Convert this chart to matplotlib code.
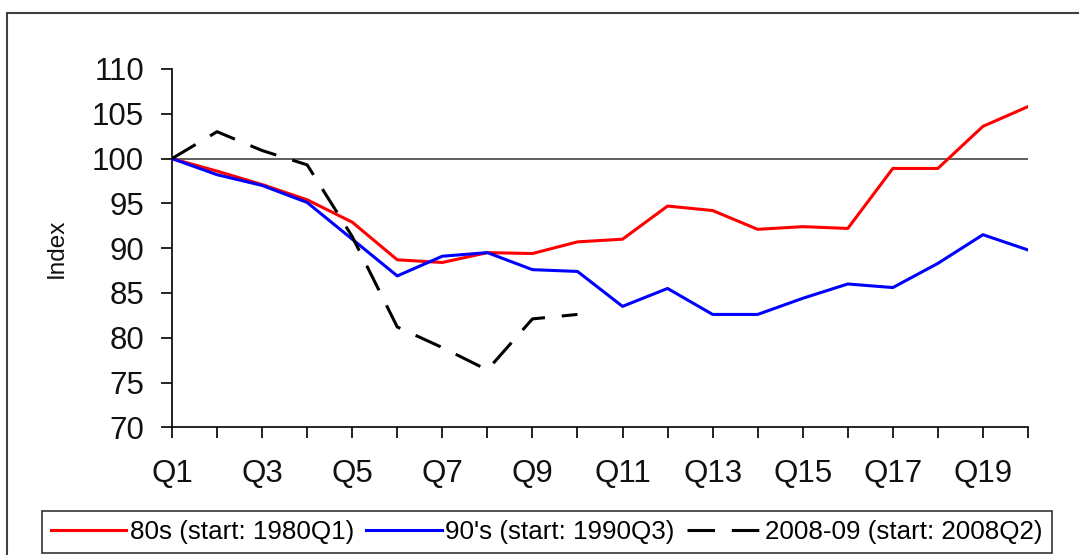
import numpy as np
import matplotlib
matplotlib.use("Agg")
import matplotlib.pyplot as plt
from matplotlib.patches import Rectangle

# index values, Q1 = 100 for each recession
quarters = ["Q1", "Q2", "Q3", "Q4", "Q5", "Q6", "Q7", "Q8", "Q9", "Q10",
            "Q11", "Q12", "Q13", "Q14", "Q15", "Q16", "Q17", "Q18", "Q19", "Q20"]
eighties = [100, 98.6, 97.1, 95.4, 92.9, 88.7, 88.4, 89.5, 89.4, 90.7,
            91.0, 94.7, 94.2, 92.1, 92.4, 92.2, 98.9, 98.9, 103.6, 105.8]
nineties = [100, 98.2, 97.0, 95.1, 91.0, 86.9, 89.1, 89.5, 87.6, 87.4,
            83.5, 85.5, 82.6, 82.6, 84.4, 86.0, 85.6, 88.3, 91.5, 89.8]
crisis = [100, 103.0, 100.9, 99.3, 91.3, 81.2, 78.9, 76.4, 82.1, 82.6]
labels = ["80s (start: 1980Q1)", "90's (start: 1990Q3)", "2008-09 (start: 2008Q2)"]
yticks = [70, 75, 80, 85, 90, 95, 100, 105, 110]

plt.rcParams['font.family'] = ['Liberation Sans', 'DejaVu Sans']

W, H = 1079, 555
fig = plt.figure(figsize=(W / 100, H / 100), dpi=100)
ax = fig.add_axes([172 / W, 1 - 427.3 / H, (1028 - 172) / W, (427.3 - 69) / H])

# outer chart frame (cut off at right and bottom in the original)
fig.patches.append(Rectangle((7.3 / W, -0.1), 1.2, 1.1 - 13.3 / H,
                             transform=fig.transFigure, fill=False,
                             edgecolor='#404040', linewidth=1.5))

ax.axhline(100, color='#505050', lw=1.3, zorder=1)

x = np.arange(len(quarters))
ax.plot(x, eighties, color='#ff0000', lw=2.2, label=labels[0], zorder=3)
ax.plot(x, nineties, color='#0000ff', lw=2.2, label=labels[1], zorder=3)
ax.plot(x[:len(crisis)], crisis, color='black', lw=2.2, dashes=(9, 5.5),
        label=labels[2], zorder=4)

ax.set_xlim(0, len(quarters) - 1)
ax.set_ylim(70, 110)
ax.set_yticks(yticks)
ax.set_xticks(x)
ax.set_xticklabels([q if i % 2 == 0 else "" for i, q in enumerate(quarters)])

for s in ['top', 'right']:
    ax.spines[s].set_visible(False)
for s in ['left', 'bottom']:
    ax.spines[s].set_linewidth(1.2)
    ax.spines[s].set_color('black')

ax.tick_params(axis='y', direction='out', length=8, width=1.2, pad=12, labelsize=22.5)
ax.tick_params(axis='x', direction='out', length=8, width=1.2, pad=15, labelsize=22.5)
for t in ax.get_xticklabels() + ax.get_yticklabels():
    t.set_color('#111111')

ax.set_ylabel("Index", fontsize=17.5, color='#111111')
ax.yaxis.set_label_coords(-0.1215, 0.5)

leg = fig.legend(loc='lower left', ncol=3, mode='expand',
                 bbox_to_anchor=(42 / W, 2 / H, (1052 - 42) / W, 46 / H),
                 fontsize=18.7, handlelength=2.9, handletextpad=0.13,
                 borderaxespad=0, borderpad=0.35, fancybox=False,
                 frameon=True, edgecolor='black')
leg.get_frame().set_linewidth(1.2)

fig.savefig("out.png", dpi=100, facecolor='white')
